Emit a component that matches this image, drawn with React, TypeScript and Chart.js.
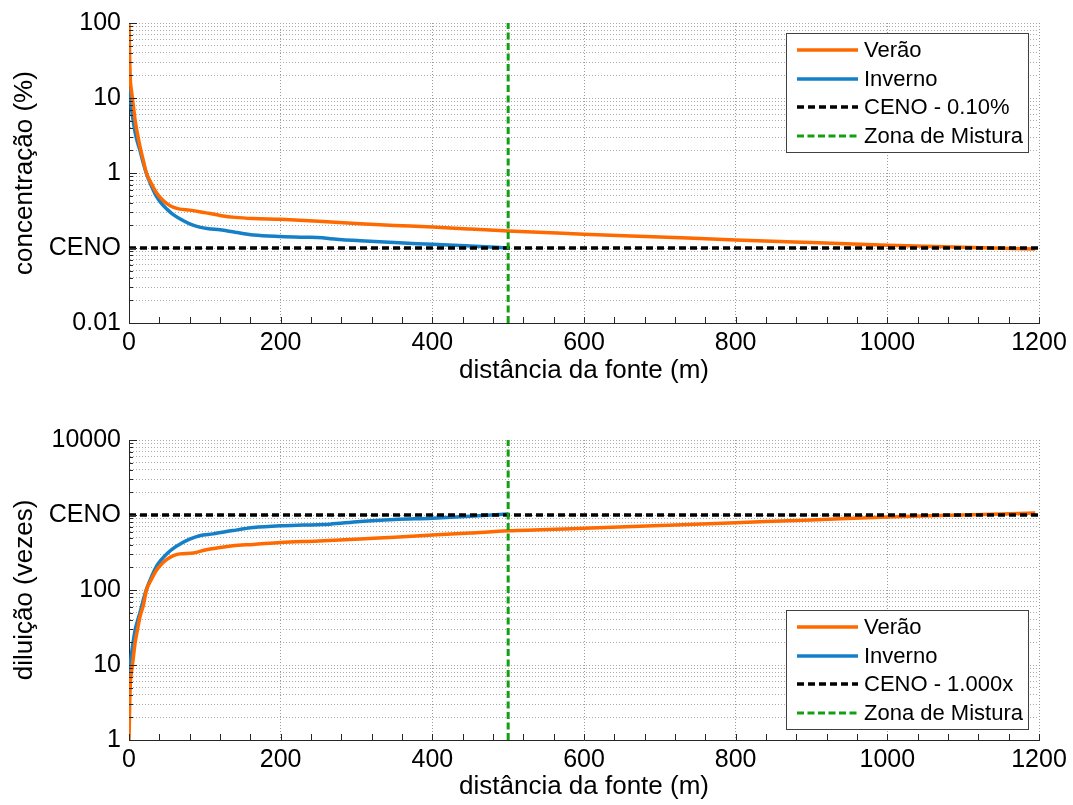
import React, { useEffect, useRef } from 'react';
import { Chart, registerables } from 'chart.js';
Chart.register(...registerables);

// ---------- data ----------
const distVeraoTop = [0, 0.5, 1, 1.5, 2, 3, 4, 6, 8, 11, 14.5, 18, 23, 29, 36, 43, 50, 58, 67, 80, 93, 105, 120, 140, 164, 200, 250, 305, 350, 400, 450, 500, 600, 700, 800, 900, 1000, 1100, 1195];
const concVerao = [100, 55, 30, 20, 16, 13, 11, 7.5, 5.1, 3.4, 2.25, 1.6, 1.0, 0.74, 0.55, 0.45, 0.39, 0.35, 0.33, 0.32, 0.305, 0.29, 0.272, 0.256, 0.247, 0.241, 0.228, 0.21, 0.2, 0.19, 0.179, 0.168, 0.153, 0.14, 0.128, 0.118, 0.109, 0.102, 0.097];

const distInvernoTop = [0, 1, 2, 3, 4, 6, 8, 11, 14.5, 18, 23, 29, 36, 43, 50, 58, 67, 80, 93, 105, 120, 140, 164, 200, 230, 255, 265, 305, 350, 400, 450, 500];
const concInverno = [13.5, 11, 9, 7.5, 6.3, 4.6, 3.5, 2.6, 2.0, 1.45, 0.98, 0.69, 0.49, 0.39, 0.33, 0.28, 0.245, 0.21, 0.19, 0.181, 0.175, 0.162, 0.149, 0.142, 0.139, 0.137, 0.133, 0.125, 0.118, 0.112, 0.106, 0.1];

const distVeraoBot = [0, 0.5, 1, 1.5, 2, 3, 4, 6, 8, 11, 14.5, 19, 23, 29, 36, 43, 50, 58, 67, 85, 102, 120, 137, 164, 200, 250, 305, 350, 400, 450, 500, 600, 700, 800, 900, 1000, 1100, 1195];
const dilVerao = [1, 1.8, 3.3, 5, 6.3, 7.7, 9.1, 13.3, 19.6, 29, 44, 63, 100, 135, 182, 222, 256, 286, 303, 312, 345, 368, 390, 405, 430, 450, 480, 505, 540, 575, 615, 665, 725, 790, 860, 940, 1000, 1060];

const distInvernoBot = [0, 1, 2, 3, 4, 6, 8, 11, 14.5, 19, 23, 29, 36, 43, 50, 58, 67, 80, 93, 111, 137, 164, 200, 230, 255, 265, 305, 350, 400, 450, 500];
const dilInverno = [7.4, 9, 11, 13.3, 16, 22, 29, 38, 50, 75, 102, 145, 205, 256, 305, 357, 408, 476, 530, 560, 620, 680, 720, 735, 745, 755, 820, 870, 905, 960, 1030];

const cenoConc = 0.1;
const cenoDil = 1000;
const mixingZone = 500;
const xMin = 0;
const xMax = 1200;
const xTickStep = 200;
const xMinorStep = 40;

const topDecades = [0.01, 0.1, 1, 10, 100];
const topDecadeLabels = ['0.01', 'CENO', '1', '10', '100'];
const botDecades = [1, 10, 100, 1000, 10000];
const botDecadeLabels = ['1', '10', '100', 'CENO', '10000'];

const seriesLabels = ['Verão', 'Inverno'];
const topRefLabels = ['CENO - 0.10%', 'Zona de Mistura'];
const botRefLabels = ['CENO - 1.000x', 'Zona de Mistura'];

const xTitle = 'distância da fonte (m)';
const topYTitle = 'concentração (%)';
const botYTitle = 'diluição (vezes)';

// ---------- styles ----------
const ORANGE = '#FF6A00';
const BLUE = '#1580C8';
const GREEN = '#12A012';
const FONT = '"Liberation Sans", Arial, Helvetica, sans-serif';

const pts = (xs: number[], ys: number[]) => xs.map((x, i) => ({ x, y: ys[i] }));

const isDecade = (v: number) => Math.abs(Math.log10(v) - Math.round(Math.log10(v))) < 1e-9;

function logTicks(decades: number[]) {
  const out: { value: number }[] = [];
  for (let i = 0; i < decades.length - 1; i++) {
    for (let k = 1; k <= 9; k++) out.push({ value: +(k * decades[i]).toPrecision(6) });
  }
  out.push({ value: decades[decades.length - 1] });
  return out;
}

const axisTicksPlugin = {
  id: 'inwardTicks',
  afterDraw(chart: any) {
    const { ctx, chartArea } = chart;
    const xs = chart.scales.x;
    const ys = chart.scales.y;
    ctx.save();
    ctx.strokeStyle = '#262626';
    ctx.lineWidth = 1;
    ctx.beginPath();
    for (let v = xMin; v <= xMax; v += xMinorStep) {
      const px = Math.round(xs.getPixelForValue(v)) + 0.5;
      ctx.moveTo(px, chartArea.bottom);
      ctx.lineTo(px, chartArea.bottom - 6);
    }
    ys.ticks.forEach((t: any) => {
      const py = Math.round(ys.getPixelForValue(t.value)) + 0.5;
      const len = isDecade(t.value) ? 8 : 4;
      ctx.moveTo(chartArea.left, py);
      ctx.lineTo(chartArea.left + len, py);
    });
    ctx.stroke();
    ctx.restore();
  },
};

const legendPlugin = {
  id: 'boxLegend',
  afterDraw(chart: any, _args: any, opts: any) {
    const { ctx, chartArea } = chart;
    const w = 243;
    const h = 120;
    const left = chartArea.right - 10 - w;
    const top = opts.position === 'top' ? chartArea.top + 10 : chartArea.bottom - 10 - h;
    ctx.save();
    ctx.fillStyle = '#ffffff';
    ctx.fillRect(left, top, w, h);
    ctx.strokeStyle = '#404040';
    ctx.lineWidth = 1;
    ctx.strokeRect(Math.round(left) + 0.5, Math.round(top) + 0.5, w - 1, h - 1);
    ctx.font = `22px ${FONT}`;
    ctx.textBaseline = 'middle';
    ctx.textAlign = 'left';
    chart.data.datasets.forEach((ds: any, i: number) => {
      const y = Math.round(top + 17 + i * 28.7);
      ctx.beginPath();
      ctx.strokeStyle = ds.borderColor;
      ctx.lineWidth = ds.borderWidth;
      ctx.setLineDash(ds.borderDash || []);
      ctx.moveTo(left + 11, y);
      ctx.lineTo(left + 72, y);
      ctx.stroke();
      ctx.setLineDash([]);
      ctx.fillStyle = '#000';
      ctx.fillText(ds.label, left + 78, y + 1);
    });
    ctx.restore();
  },
};

function makeConfig(p: {
  verao: { x: number; y: number }[];
  inverno: { x: number; y: number }[];
  ceno: number;
  refLabels: string[];
  decades: number[];
  decadeLabels: string[];
  yTitle: string;
  padTop: number;
  xAxisHeight: number;
  xTitlePadBottom: number;
  legendPos: string;
}) {
  const yMin = p.decades[0];
  const yMax = p.decades[p.decades.length - 1];
  return {
    type: 'line',
    data: {
      datasets: [
        { label: seriesLabels[0], data: p.verao, borderColor: ORANGE, borderWidth: 3.5, pointRadius: 0, cubicInterpolationMode: 'monotone', order: 2 },
        { label: seriesLabels[1], data: p.inverno, borderColor: BLUE, borderWidth: 3.5, pointRadius: 0, cubicInterpolationMode: 'monotone', order: 3 },
        { label: p.refLabels[0], data: [{ x: xMin, y: p.ceno }, { x: xMax, y: p.ceno }], borderColor: '#000', borderWidth: 3.5, borderDash: [7, 4], pointRadius: 0, order: 1 },
        { label: p.refLabels[1], data: [{ x: mixingZone, y: yMin }, { x: mixingZone, y: yMax }], borderColor: GREEN, borderWidth: 3, borderDash: [7, 3.5], pointRadius: 0, order: 0 },
      ],
    },
    options: {
      responsive: false,
      maintainAspectRatio: false,
      animation: false,
      devicePixelRatio: 1,
      layout: { padding: { top: p.padTop, right: 34, bottom: 0, left: 0 } },
      plugins: {
        legend: { display: false },
        tooltip: { enabled: false },
        boxLegend: { position: p.legendPos },
      },
      scales: {
        x: {
          type: 'linear',
          min: xMin,
          max: xMax,
          afterFit: (s: any) => { s.height = p.xAxisHeight; },
          ticks: { stepSize: xTickStep, color: '#000', font: { family: FONT, size: 25 }, padding: 5, maxRotation: 0, callback: (v: any) => String(v) },
          grid: { color: '#9a9a9a', lineWidth: 1, drawTicks: false },
          border: { display: true, color: '#262626', width: 1, dash: [1, 2] },
          title: { display: true, text: xTitle, color: '#000', font: { family: FONT, size: 26 }, padding: { top: 0, bottom: p.xTitlePadBottom } },
        },
        y: {
          type: 'logarithmic',
          min: yMin,
          max: yMax,
          afterFit: (s: any) => { s.width = 129; },
          afterBuildTicks: (s: any) => { s.ticks = logTicks(p.decades); },
          ticks: {
            autoSkip: false,
            color: '#000',
            font: { family: FONT, size: 25 },
            padding: 8,
            callback: (v: any) => {
              const idx = p.decades.findIndex((d) => Math.abs(d - v) / d < 1e-9);
              return idx >= 0 ? p.decadeLabels[idx] : '';
            },
          },
          grid: { color: '#ababab', lineWidth: 1, drawTicks: false },
          border: { display: true, color: '#262626', width: 1, dash: [1, 2] },
          title: { display: true, text: p.yTitle, color: '#000', font: { family: FONT, size: 26 }, padding: { top: 9, bottom: 0 } },
        },
      },
    },
    plugins: [axisTicksPlugin, legendPlugin],
  };
}

function Panel(props: { config: any; width: number; height: number }) {
  const ref = useRef<HTMLCanvasElement | null>(null);
  useEffect(() => {
    if (!ref.current) return;
    const chart = new Chart(ref.current, props.config);
    return () => chart.destroy();
  }, []);
  return <canvas ref={ref} width={props.width} height={props.height} style={{ display: 'block', width: props.width, height: props.height }} />;
}

export default function App() {
  const topCfg = makeConfig({
    verao: pts(distVeraoTop, concVerao),
    inverno: pts(distInvernoTop, concInverno),
    ceno: cenoConc,
    refLabels: topRefLabels,
    decades: topDecades,
    decadeLabels: topDecadeLabels,
    yTitle: topYTitle,
    padTop: 23,
    xAxisHeight: 82,
    xTitlePadBottom: 19,
    legendPos: 'top',
  });
  const botCfg = makeConfig({
    verao: pts(distVeraoBot, dilVerao),
    inverno: pts(distInvernoBot, dilInverno),
    ceno: cenoDil,
    refLabels: botRefLabels,
    decades: botDecades,
    decadeLabels: botDecadeLabels,
    yTitle: botYTitle,
    padTop: 35,
    xAxisHeight: 65,
    xTitlePadBottom: 3,
    legendPos: 'bottom',
  });
  return (
    <div style={{ position: 'absolute', left: 0, top: 0, width: 1073, height: 805, background: '#fff' }}>
      <Panel config={topCfg} width={1073} height={405} />
      <Panel config={botCfg} width={1073} height={400} />
    </div>
  );
}
